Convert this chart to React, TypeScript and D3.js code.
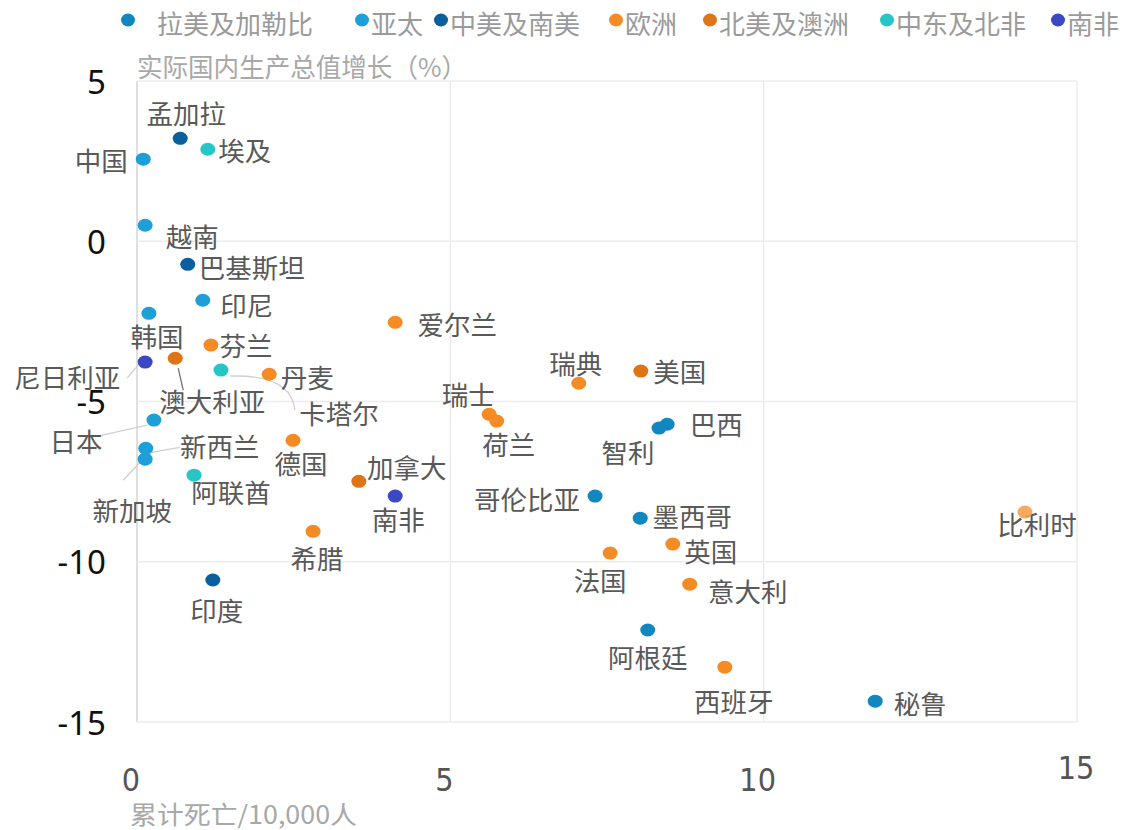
import React from "react";
import * as d3 from "d3";

const regions = ["拉美及加勒比", "亚太", "中美及南美", "欧洲", "北美及澳洲", "中东及北非", "南非"];
const regionColors = ["#1087bf", "#1f9fd7", "#0b5f9c", "#f58b25", "#dd7516", "#26c6c6", "#3a48c4"];

const countries = ["孟加拉", "埃及", "中国", "越南", "巴基斯坦", "印尼", "韩国", "爱尔兰", "芬兰", "尼日利亚", "澳大利亚", "卡塔尔", "丹麦", "瑞典", "美国", "瑞士", "荷兰", "日本", "巴西", "智利", "德国", "新西兰", "新加坡", "阿联酋", "加拿大", "南非", "哥伦比亚", "墨西哥", "比利时", "希腊", "法国", "英国", "印度", "意大利", "阿根廷", "西班牙", "秘鲁"];
const countryRegion = ["中美及南美", "中东及北非", "亚太", "亚太", "中美及南美", "亚太", "亚太", "欧洲", "欧洲", "南非", "北美及澳洲", "中东及北非", "欧洲", "欧洲", "北美及澳洲", "欧洲", "欧洲", "亚太", "拉美及加勒比", "拉美及加勒比", "欧洲", "亚太", "亚太", "中东及北非", "北美及澳洲", "南非", "拉美及加勒比", "拉美及加勒比", "欧洲", "欧洲", "欧洲", "欧洲", "中美及南美", "欧洲", "拉美及加勒比", "欧洲", "拉美及加勒比"];
const deaths = [0.69, 1.13, 0.10, 0.13, 0.81, 1.05, 0.19, 4.12, 1.18, 0.13, 0.61, 1.34, 2.11, 7.05, 8.04, 5.62, 5.74, 0.27, 8.46, 8.33, 2.49, 0.14, 0.13, 0.91, 3.54, 4.12, 7.31, 8.03, 14.17, 2.81, 7.55, 8.55, 1.21, 8.82, 8.15, 9.38, 11.78];
const gdpGrowth = [3.21, 2.87, 2.56, 0.50, -0.72, -1.84, -2.25, -2.53, -3.24, -3.77, -3.65, -4.02, -4.15, -4.43, -4.05, -5.40, -5.61, -5.58, -5.71, -5.83, -6.21, -6.46, -6.80, -7.30, -7.49, -7.95, -7.95, -8.64, -8.45, -9.05, -9.73, -9.45, -10.57, -10.70, -12.13, -13.29, -14.35];

const xTicks = [0, 5, 10, 15];
const yTicks = [5, 0, -5, -10, -15];

// label placement offsets (px) relative to marker, and optional leader lines
const labelOffsets: Record<string, [number, number]> = {
  孟加拉: [6, -26], 埃及: [37, 0], 中国: [-42, 0], 越南: [47, 10], 巴基斯坦: [64, 2], 印尼: [44, 4],
  韩国: [8, 22], 爱尔兰: [62, 1], 芬兰: [35, -1], 尼日利亚: [-78, 14], 澳大利亚: [37, 42], 卡塔尔: [118, 42],
  丹麦: [38, 2], 瑞典: [-3, -21], 美国: [39, -1], 瑞士: [-21, -21], 荷兰: [12, 22], 日本: [-78, 20],
  巴西: [49, -1], 智利: [-31, 23], 德国: [8, 22], 新西兰: [74, -3], 新加坡: [-13, 50], 阿联酋: [37, 16],
  加拿大: [48, -15], 南非: [3, 22], 哥伦比亚: [-68, 2], 墨西哥: [52, -3], 比利时: [12, 11], 希腊: [4, 26],
  法国: [-10, 26], 英国: [38, 6], 印度: [4, 29], 意大利: [58, 6], 阿根廷: [0, 26], 西班牙: [9, 33], 秘鲁: [45, 1],
};
const leaders: Record<string, { from: [number, number]; to: [number, number]; curve?: boolean; dark?: boolean }> = {
  尼日利亚: { from: [-3, -2], to: [-18, 16] },
  澳大利亚: { from: [3, 10], to: [8, 32], dark: true },
  卡塔尔: { from: [9, 6], to: [74, 40], curve: true },
  日本: { from: [-7, 5], to: [-56, 16] },
  新西兰: { from: [6, 4], to: [34, -1] },
  新加坡: { from: [-5, 3], to: [-22, 21] },
};

const legendX = [128, 362, 441, 616, 710, 887, 1058];

export default function App() {
  const W = 1122, H = 830;
  const left = 137, right = 1077, top = 81, bottom = 722;
  const x = d3.scaleLinear().domain([0, 15]).range([left, right]);
  const y = d3.scaleLinear().domain([-15, 5]).range([bottom, top]);
  const color = d3.scaleOrdinal<string, string>().domain(regions).range(regionColors);
  const cjk = "'Noto Sans CJK SC', 'Noto Sans', sans-serif";
  const pts = countries.map((c, i) => ({ name: c, region: countryRegion[i], x: x(deaths[i]), y: y(gdpGrowth[i]) }));

  return (
    <svg width={W} height={H} style={{ position: "absolute", left: 0, top: 0, background: "#fff" }}>
      {/* grid */}
      {xTicks.map((t) => (
        <line key={"gx" + t} x1={x(t)} x2={x(t)} y1={top} y2={bottom} stroke={t === 0 ? "#d4d4d4" : "#ececec"} strokeWidth={1.5} />
      ))}
      {yTicks.map((t) => (
        <line key={"gy" + t} x1={left} x2={right} y1={y(t)} y2={y(t)} stroke="#ececec" strokeWidth={1.5} />
      ))}
      {/* y ticks */}
      {yTicks.map((t) => (
        <text key={"ty" + t} x={106} y={y(t)} textAnchor="end" dominantBaseline="central" fontSize={33} fontFamily="'Noto Sans', sans-serif" fill="#111">
          {t}
        </text>
      ))}
      {/* x ticks */}
      {xTicks.map((t) => (
        <text key={"tx" + t} x={x(t) + (t === 15 ? -1 : -6)} y={t === 15 ? 768 : 780} textAnchor="middle" dominantBaseline="central" fontSize={32} fontFamily="'Liberation Sans Narrow', 'DejaVu Sans Condensed', sans-serif" fill="#555">
          {t}
        </text>
      ))}
      {/* axis titles */}
      <text x={137} y={65} dominantBaseline="central" fontSize={26} fontFamily={cjk} fill="#a8a8a8" textLength={330} lengthAdjust="spacingAndGlyphs">实际国内生产总值增长（%）</text>
      <text x={130} y={813} dominantBaseline="central" fontSize={25} fontFamily={cjk} fill="#a8a8a8" textLength={227} lengthAdjust="spacingAndGlyphs">累计死亡/10,000人</text>
      {/* legend */}
      {regions.map((r, i) => (
        <g key={"lg" + r}>
          <ellipse cx={legendX[i]} cy={20} rx={7} ry={6.5} fill={color(r)} />
          <text x={legendX[i] + (i === 0 ? 29 : 9)} y={22} dominantBaseline="central" fontSize={26} fontFamily={cjk} fill="#9a9a9a">{r}</text>
        </g>
      ))}
      {/* leader lines */}
      {pts.filter((p) => leaders[p.name]).map((p) => {
        const l = leaders[p.name];
        const x1 = p.x + l.from[0], y1 = p.y + l.from[1];
        const x2 = p.x + l.to[0], y2 = p.y + l.to[1];
        const d = l.curve
          ? `M${x1},${y1} Q${x2 - 4},${y1 - 2} ${x2},${y2}`
          : `M${x1},${y1} L${x2},${y2}`;
        return <path key={"ld" + p.name} d={d} fill="none" stroke={l.dark ? "#777" : "#cfcfcf"} strokeWidth={1.3} />;
      })}
      {/* labels */}
      {pts.map((p) => {
        const o = labelOffsets[p.name] || [30, 0];
        return (
          <text key={"lb" + p.name} x={p.x + o[0]} y={p.y + o[1]} textAnchor="middle" dominantBaseline="central" fontSize={26.5} fontFamily={cjk} fill="#595959">
            {p.name}
          </text>
        );
      })}
      {/* markers */}
      {pts.map((p) => (
        <ellipse key={"pt" + p.name} cx={p.x} cy={p.y} rx={7.5} ry={6.5} fill={p.name === "比利时" ? "#f7a24e" : color(p.region)} opacity={p.name === "比利时" ? 0.9 : 1} />
      ))}
    </svg>
  );
}
